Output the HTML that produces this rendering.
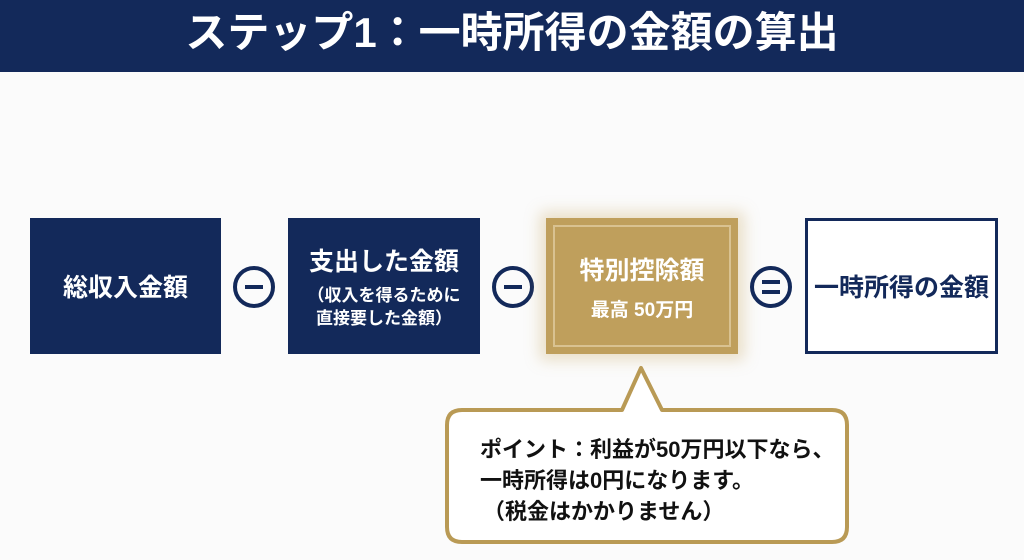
<!DOCTYPE html>
<html><head><meta charset="utf-8"><style>
*{margin:0;padding:0;box-sizing:border-box}
body{width:1024px;height:560px;background:#fbfbfb;position:relative;overflow:hidden;font-family:"Liberation Sans","Noto Sans CJK JP",sans-serif;font-weight:bold}
.title{position:absolute;left:0;top:0;width:1024px;height:72px;background:#13295a;color:#fff;font-size:42px;text-align:center;line-height:66px;letter-spacing:0px}
.box{position:absolute;top:218px;height:136px;display:flex;flex-direction:column;align-items:center;justify-content:center;text-align:center;color:#fff}
.navy{background:#13295a}
.c{position:absolute;top:266px;width:42px;height:42px;border:4px solid #13295a;border-radius:50%}
.bar{position:absolute;left:8px;width:18px;height:4px;background:#13295a}
.t{position:absolute;left:480px;font-size:22px;color:#111;white-space:nowrap}
</style></head><body>
<div class="title">ステップ1：一時所得の金額の算出</div>
<div class="box navy" style="left:30px;width:191px;font-size:25px">総収入金額</div>
<div class="c" style="left:233px"><div class="bar" style="top:15px"></div></div>
<div class="box navy" style="left:288px;width:192px"><div style="font-size:25px;margin-bottom:6px">支出した金額</div><div style="font-size:17px;line-height:23px">（収入を得るために<br>直接要した金額）</div></div>
<div class="c" style="left:492px"><div class="bar" style="top:15px"></div></div>
<div class="box" style="left:546px;width:192px;background:#bf9f5c;box-shadow:0 0 14px 6px rgba(200,170,100,.35)"><div style="position:absolute;left:7px;top:7px;right:7px;bottom:7px;border:2px solid #d9c291"></div><div style="font-size:25px;margin-bottom:8px">特別控除額</div><div style="font-size:19px">最高 50万円</div></div>
<div class="c" style="left:750px"><div class="bar" style="top:10px"></div><div class="bar" style="top:20px"></div></div>
<div class="box" style="left:805px;width:193px;background:#fff;border:3px solid #13295a;color:#13295a;font-size:25px">一時所得の金額</div>
<svg style="position:absolute;left:0;top:0" width="1024" height="560">
<path d="M462,410 H622 L641,368 L662,410 H832 Q847,410 847,425 V527 Q847,542 832,542 H462 Q447,542 447,527 V425 Q447,410 462,410 Z" fill="#fff" stroke="#b99a55" stroke-width="4" stroke-linejoin="round"/>
</svg>
<div class="t" style="top:432px">ポイント：利益が50万円以下なら、</div>
<div class="t" style="top:463px">一時所得は0円になります。</div>
<div class="t" style="top:494px;left:483px">（税金はかかりません）</div>
</body></html>
